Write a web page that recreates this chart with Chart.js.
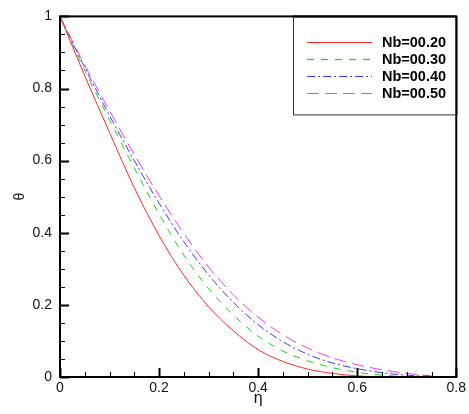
<!DOCTYPE html>
<html>
<head>
<meta charset="utf-8">
<script src="https://cdn.jsdelivr.net/npm/chart.js@4.4.0/dist/chart.umd.min.js"></script>
<style>
  html, body { margin: 0; padding: 0; background: #fff; }
</style>
</head>
<body>
<canvas id="c" width="469" height="414"></canvas>
<script>
// --- data ---
const eta = [0, 0.05, 0.1, 0.15, 0.2, 0.25, 0.3, 0.35, 0.4, 0.45, 0.5, 0.55, 0.6, 0.65, 0.7, 0.75];
const nb020 = [1, 0.835, 0.678, 0.525, 0.392, 0.282, 0.195, 0.128, 0.076, 0.043, 0.022, 0.010, 0.003, 0.0005];
const nb030 = [1, 0.850, 0.713, 0.580, 0.452, 0.338, 0.245, 0.172, 0.113, 0.072, 0.045, 0.026, 0.013, 0.005, 0.001];
const nb040 = [1, 0.858, 0.725, 0.600, 0.482, 0.375, 0.283, 0.207, 0.145, 0.098, 0.063, 0.039, 0.023, 0.012, 0.005, 0.002];
const nb050 = [1, 0.865, 0.738, 0.617, 0.503, 0.398, 0.305, 0.228, 0.166, 0.117, 0.080, 0.053, 0.034, 0.020, 0.010, 0.003];
const labels = ['Nb=00.20', 'Nb=00.30', 'Nb=00.40', 'Nb=00.50'];
const xTicks = [0, 0.2, 0.4, 0.6, 0.8];
const yTicks = [0, 0.2, 0.4, 0.6, 0.8, 1];

const pts = arr => arr.map((v, i) => ({ x: eta[i], y: v }));

const styles = [
  { color: '#ff2a2a', dash: [] },
  { color: '#22cc22', dash: [7, 7] },
  { color: '#3b3bff', dash: [8, 3, 2, 3] },
  { color: '#ff33ff', dash: [12, 6] }
];
const series = [nb020, nb030, nb040, nb050];

// inward ticks + heavy frame, like the original plot
const framePlugin = {
  id: 'frame',
  afterDatasetsDraw(chart) {
    const { ctx, chartArea: a, scales: { x, y } } = chart;
    ctx.save();
    ctx.strokeStyle = '#000';
    // minor + major ticks on x
    for (let v = 0; v <= 0.8001; v += 0.05) {
      const px = Math.round(x.getPixelForValue(v)) + 0.5;
      const major = Math.abs(v / 0.2 - Math.round(v / 0.2)) < 1e-6;
      ctx.lineWidth = major ? 2 : 1;
      ctx.beginPath();
      ctx.moveTo(px, a.bottom);
      ctx.lineTo(px, a.bottom - (major ? 9 : 5));
      ctx.stroke();
    }
    for (let v = 0; v <= 1.0001; v += 0.05) {
      const py = Math.round(y.getPixelForValue(v)) + 0.5;
      const major = Math.abs(v / 0.2 - Math.round(v / 0.2)) < 1e-6;
      ctx.lineWidth = major ? 2 : 1;
      ctx.beginPath();
      ctx.moveTo(a.left, py);
      ctx.lineTo(a.left + (major ? 9 : 5), py);
      ctx.stroke();
    }
    ctx.lineWidth = 2;
    ctx.strokeRect(a.left, a.top, a.right - a.left, a.bottom - a.top);

    // legend box in the top right corner
    const bx = 293, by = a.top, bw = a.right - bx, bh = 98;
    ctx.fillStyle = '#fff';
    ctx.fillRect(bx, by, bw, bh);
    ctx.lineWidth = 1;
    ctx.strokeStyle = '#333';
    ctx.strokeRect(bx + 0.5, by + 0.5, bw, bh);
    ctx.lineWidth = 2;
    ctx.strokeStyle = '#000';
    ctx.beginPath();
    ctx.moveTo(a.right, a.top); ctx.lineTo(a.right, by + bh); ctx.moveTo(bx, a.top); ctx.lineTo(a.right, a.top);
    ctx.stroke();

    ctx.font = 'bold 14.5px "Liberation Sans", Arial, sans-serif';
    ctx.textBaseline = 'middle';
    chart.data.datasets.forEach((ds, i) => {
      const ry = Math.round(by + 26 + i * 16.7) + 0.5;
      ctx.strokeStyle = ds.borderColor;
      ctx.lineWidth = 1.2;
      ctx.setLineDash(ds.borderDash);
      ctx.beginPath();
      ctx.moveTo(307, ry);
      ctx.lineTo(372, ry);
      ctx.stroke();
      ctx.setLineDash([]);
      ctx.fillStyle = '#000';
      ctx.fillText(ds.label, 382, ry + 0.5);
    });
    ctx.restore();
  }
};

new Chart(document.getElementById('c'), {
  type: 'line',
  data: {
    datasets: series.map((s, i) => ({
      label: labels[i],
      data: pts(s),
      borderColor: styles[i].color,
      borderDash: styles[i].dash,
      borderWidth: 1,
      pointRadius: 0,
      fill: false,
      cubicInterpolationMode: 'monotone'
    }))
  },
  options: {
    responsive: false,
    animation: false,
    devicePixelRatio: 1,
    layout: { autoPadding: false, padding: { left: 0, right: 9, top: 12, bottom: 0 } },
    plugins: { legend: { display: false }, tooltip: { enabled: false } },
    scales: {
      x: {
        type: 'linear', min: 0, max: 0.8,
        afterFit: s => { s.height = 37; },
        afterBuildTicks: s => { s.ticks = xTicks.map(v => ({ value: v })); },
        grid: { display: false, drawTicks: false },
        border: { display: false },
        ticks: { padding: 3, color: '#111', font: { family: '"Liberation Sans", Arial, sans-serif', size: 14 }, maxRotation: 0, callback: v => String(+v.toFixed(1)) },
        title: { display: true, text: 'η', color: '#111', font: { family: '"Liberation Sans", Arial, sans-serif', size: 16 }, padding: { top: 0, bottom: 6 } }
      },
      y: {
        type: 'linear', min: 0, max: 1,
        afterFit: s => { s.width = 60; },
        afterBuildTicks: s => { s.ticks = yTicks.map(v => ({ value: v })); },
        grid: { display: false, drawTicks: false },
        border: { display: false },
        ticks: { padding: 8, color: '#111', font: { family: '"Liberation Sans", Arial, sans-serif', size: 14 }, callback: v => String(+v.toFixed(1)) },
        title: { display: true, text: 'θ', color: '#111', font: { family: '"Liberation Sans", Arial, sans-serif', size: 14 }, padding: { top: 12, bottom: 0 } }
      }
    }
  },
  plugins: [framePlugin]
});
</script>
</body>
</html>
